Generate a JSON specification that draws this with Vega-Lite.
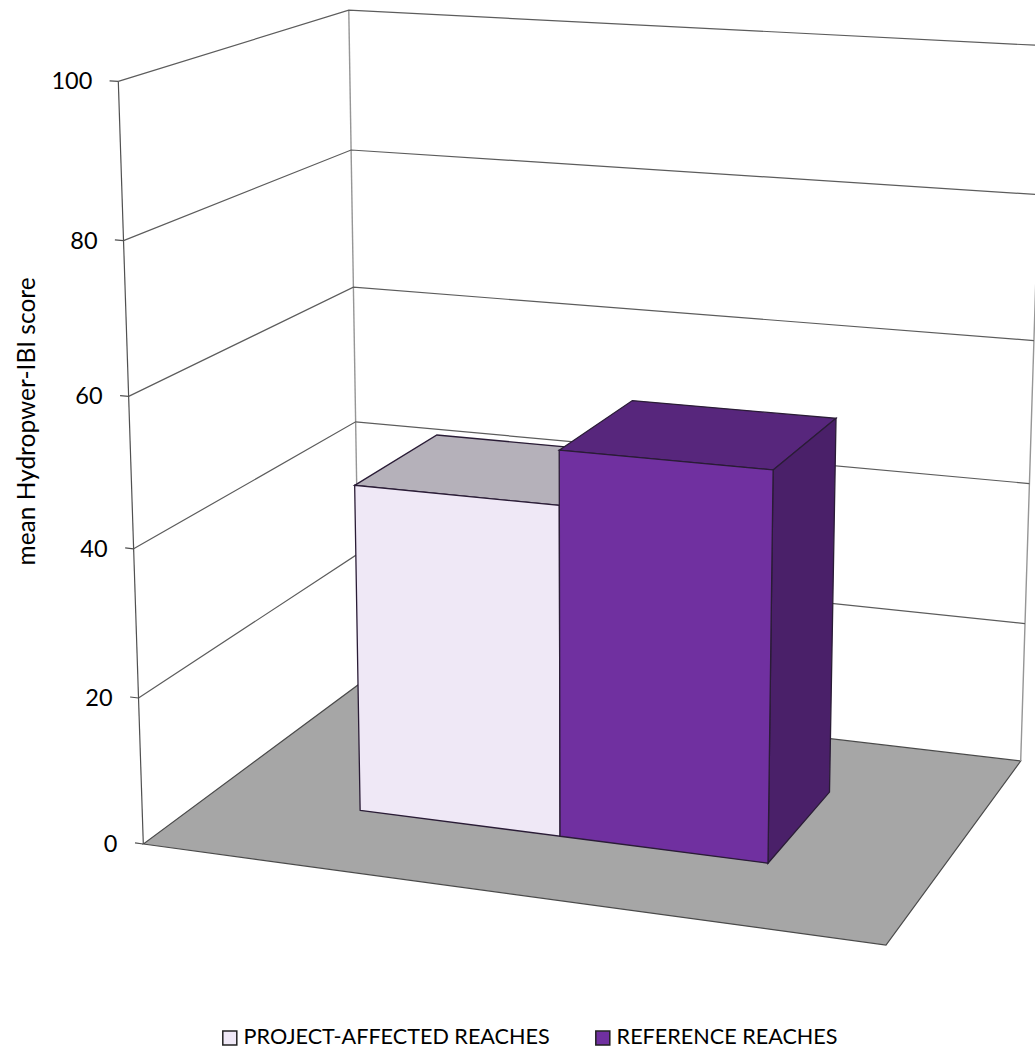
{
  "$schema": "https://vega.github.io/schema/vega-lite/v6.json",
  "width": 1035,
  "height": 1053,
  "padding": 0,
  "autosize": "none",
  "background": "white",
  "config": {"view": {"stroke": null}},
  "resolve": {"scale": {"fill": "independent"}},
  "data": {"values": [
    {"kind":"floor","id":"floor","i":0,"u":0,"v":0,"w":0},
    {"kind":"floor","id":"floor","i":1,"u":1,"v":0,"w":0},
    {"kind":"floor","id":"floor","i":2,"u":1,"v":0,"w":1},
    {"kind":"floor","id":"floor","i":3,"u":0,"v":0,"w":1},

    {"kind":"grid","id":"g20","i":0,"u":0,"v":20,"w":0},
    {"kind":"grid","id":"g20","i":1,"u":0,"v":20,"w":1},
    {"kind":"grid","id":"g20","i":2,"u":1,"v":20,"w":1},
    {"kind":"grid","id":"g40","i":0,"u":0,"v":40,"w":0},
    {"kind":"grid","id":"g40","i":1,"u":0,"v":40,"w":1},
    {"kind":"grid","id":"g40","i":2,"u":1,"v":40,"w":1},
    {"kind":"grid","id":"g60","i":0,"u":0,"v":60,"w":0},
    {"kind":"grid","id":"g60","i":1,"u":0,"v":60,"w":1},
    {"kind":"grid","id":"g60","i":2,"u":1,"v":60,"w":1},
    {"kind":"grid","id":"g80","i":0,"u":0,"v":80,"w":0},
    {"kind":"grid","id":"g80","i":1,"u":0,"v":80,"w":1},
    {"kind":"grid","id":"g80","i":2,"u":1,"v":80,"w":1},
    {"kind":"grid","id":"g100","i":0,"u":0,"v":100,"w":0},
    {"kind":"grid","id":"g100","i":1,"u":0,"v":100,"w":1},
    {"kind":"grid","id":"g100","i":2,"u":1,"v":100,"w":1},

    {"kind":"edge","id":"backLeft","i":0,"u":0,"v":0,"w":1},
    {"kind":"edge","id":"backLeft","i":1,"u":0,"v":100,"w":1},
    {"kind":"edge","id":"backRight","i":0,"u":1,"v":0,"w":1},
    {"kind":"edge","id":"backRight","i":1,"u":1,"v":100,"w":1},

    {"kind":"axis","id":"yAxis","i":0,"u":0,"v":0,"w":0},
    {"kind":"axis","id":"yAxis","i":1,"u":0,"v":100,"w":0},
    {"kind":"axis","id":"t0","i":0,"u":-0.012,"v":0,"w":0},
    {"kind":"axis","id":"t0","i":1,"u":0,"v":0,"w":0},
    {"kind":"axis","id":"t20","i":0,"u":-0.012,"v":20,"w":0},
    {"kind":"axis","id":"t20","i":1,"u":0,"v":20,"w":0},
    {"kind":"axis","id":"t40","i":0,"u":-0.012,"v":40,"w":0},
    {"kind":"axis","id":"t40","i":1,"u":0,"v":40,"w":0},
    {"kind":"axis","id":"t60","i":0,"u":-0.012,"v":60,"w":0},
    {"kind":"axis","id":"t60","i":1,"u":0,"v":60,"w":0},
    {"kind":"axis","id":"t80","i":0,"u":-0.012,"v":80,"w":0},
    {"kind":"axis","id":"t80","i":1,"u":0,"v":80,"w":0},
    {"kind":"axis","id":"t100","i":0,"u":-0.012,"v":100,"w":0},
    {"kind":"axis","id":"t100","i":1,"u":0,"v":100,"w":0},

    {"kind":"label","id":"l0","i":0,"u":0,"v":0,"w":0},
    {"kind":"label","id":"l20","i":0,"u":0,"v":20,"w":0},
    {"kind":"label","id":"l40","i":0,"u":0,"v":40,"w":0},
    {"kind":"label","id":"l60","i":0,"u":0,"v":60,"w":0},
    {"kind":"label","id":"l80","i":0,"u":0,"v":80,"w":0},
    {"kind":"label","id":"l100","i":0,"u":0,"v":100,"w":0},

    {"kind":"title","id":"title","i":0,"u":-0.144,"v":55.5,"w":0,"text":"mean Hydropwer-IBI score"},

    {"kind":"bar","face":"top","series":"PROJECT-AFFECTED REACHES","id":"p-top","i":0,"u":0.215,"v":45,"w":0.3},
    {"kind":"bar","face":"top","series":"PROJECT-AFFECTED REACHES","id":"p-top","i":1,"u":0.5,"v":45,"w":0.3},
    {"kind":"bar","face":"top","series":"PROJECT-AFFECTED REACHES","id":"p-top","i":2,"u":0.5,"v":45,"w":0.7},
    {"kind":"bar","face":"top","series":"PROJECT-AFFECTED REACHES","id":"p-top","i":3,"u":0.215,"v":45,"w":0.7},

    {"kind":"bar","face":"top","series":"REFERENCE REACHES","id":"r-top","i":0,"u":0.5,"v":52.3,"w":0.3},
    {"kind":"bar","face":"top","series":"REFERENCE REACHES","id":"r-top","i":1,"u":0.785,"v":52.3,"w":0.3},
    {"kind":"bar","face":"top","series":"REFERENCE REACHES","id":"r-top","i":2,"u":0.785,"v":52.3,"w":0.7},
    {"kind":"bar","face":"top","series":"REFERENCE REACHES","id":"r-top","i":3,"u":0.5,"v":52.3,"w":0.7},

    {"kind":"bar","face":"side","series":"REFERENCE REACHES","id":"r-side","i":0,"u":0.785,"v":0,"w":0.3},
    {"kind":"bar","face":"side","series":"REFERENCE REACHES","id":"r-side","i":1,"u":0.785,"v":0,"w":0.7},
    {"kind":"bar","face":"side","series":"REFERENCE REACHES","id":"r-side","i":2,"u":0.785,"v":52.3,"w":0.7},
    {"kind":"bar","face":"side","series":"REFERENCE REACHES","id":"r-side","i":3,"u":0.785,"v":52.3,"w":0.3},

    {"kind":"bar","face":"front","series":"PROJECT-AFFECTED REACHES","id":"p-front","i":0,"u":0.215,"v":0,"w":0.3},
    {"kind":"bar","face":"front","series":"PROJECT-AFFECTED REACHES","id":"p-front","i":1,"u":0.5,"v":0,"w":0.3},
    {"kind":"bar","face":"front","series":"PROJECT-AFFECTED REACHES","id":"p-front","i":2,"u":0.5,"v":45,"w":0.3},
    {"kind":"bar","face":"front","series":"PROJECT-AFFECTED REACHES","id":"p-front","i":3,"u":0.215,"v":45,"w":0.3},

    {"kind":"bar","face":"front","series":"REFERENCE REACHES","id":"r-front","i":0,"u":0.5,"v":0,"w":0.3},
    {"kind":"bar","face":"front","series":"REFERENCE REACHES","id":"r-front","i":1,"u":0.785,"v":0,"w":0.3},
    {"kind":"bar","face":"front","series":"REFERENCE REACHES","id":"r-front","i":2,"u":0.785,"v":52.3,"w":0.3},
    {"kind":"bar","face":"front","series":"REFERENCE REACHES","id":"r-front","i":3,"u":0.5,"v":52.3,"w":0.3}
  ]},
  "transform": [
    {"calculate": "1 - 0.06947 * datum.u + 0.13827 * datum.w - 0.00053 * datum.v", "as": "q"},
    {"calculate": "(143.3 + 681.15 * datum.u + 266.48 * datum.w - 0.3127 * datum.v) / datum.q", "as": "px"},
    {"calculate": "(844 + 35.35 * datum.u - 66 * datum.w - 7.67 * datum.v) / datum.q", "as": "py"}
  ],
  "encoding": {
    "x": {"field": "px", "type": "quantitative", "axis": null, "scale": {"domain": [0, 1035], "range": [0, 1035], "nice": false, "zero": false}},
    "y": {"field": "py", "type": "quantitative", "axis": null, "scale": {"domain": [0, 1053], "range": [0, 1053], "nice": false, "zero": false}}
  },
  "layer": [
    {
      "transform": [{"filter": "datum.kind === 'floor'"}],
      "mark": {"type": "line", "interpolate": "linear-closed", "fill": "#a6a6a6", "stroke": "#4a4a4a", "strokeWidth": 1.2, "clip": true},
      "encoding": {"order": {"field": "i"}, "detail": {"field": "id"}}
    },
    {
      "transform": [{"filter": "datum.kind === 'edge'"}],
      "mark": {"type": "line", "stroke": "#969696", "strokeWidth": 1.4, "clip": true},
      "encoding": {"order": {"field": "i"}, "detail": {"field": "id"}}
    },
    {
      "transform": [{"filter": "datum.kind === 'grid'"}],
      "mark": {"type": "line", "stroke": "#5c5c5c", "strokeWidth": 1.2, "clip": true},
      "encoding": {"order": {"field": "i"}, "detail": {"field": "id"}}
    },
    {
      "transform": [{"filter": "datum.kind === 'axis'"}],
      "mark": {"type": "line", "stroke": "#505050", "strokeWidth": 1.2, "clip": true},
      "encoding": {"order": {"field": "i"}, "detail": {"field": "id"}}
    },
    {
      "transform": [
        {"filter": "datum.kind === 'bar' && datum.face !== 'front'"}
      ],
      "mark": {"type": "line", "interpolate": "linear-closed", "stroke": "#2a1c36", "strokeWidth": 1.3, "clip": true},
      "encoding": {
        "order": {"field": "i"},
        "detail": {"field": "id"},
        "fill": {
          "field": "id",
          "type": "nominal",
          "legend": null,
          "scale": {"domain": ["p-top", "r-top", "r-side"], "range": ["#b5b1ba", "#57267c", "#4a2069"]}
        }
      }
    },
    {
      "transform": [{"filter": "datum.kind === 'bar' && datum.face === 'front'"}],
      "mark": {"type": "line", "interpolate": "linear-closed", "stroke": "#2a1c36", "strokeWidth": 1.3, "clip": true},
      "encoding": {
        "order": {"field": "i"},
        "detail": {"field": "id"},
        "fill": {
          "field": "series",
          "type": "nominal",
          "scale": {"domain": ["PROJECT-AFFECTED REACHES", "REFERENCE REACHES"], "range": ["#efe8f6", "#7030a0"]},
          "legend": {
            "title": null,
            "orient": "none",
            "legendX": 219,
            "legendY": 1027,
            "direction": "horizontal",
            "columns": 2,
            "columnPadding": 42,
            "symbolType": "square",
            "symbolSize": 196,
            "symbolStrokeColor": "#222222",
            "symbolStrokeWidth": 1.5,
            "labelFont": "Lato",
            "labelFontSize": 21.6,
            "labelColor": "#000000",
            "labelOffset": 3,
            "labelLimit": 500
          }
        }
      }
    },
    {
      "transform": [{"filter": "datum.kind === 'label'"}],
      "mark": {"type": "text", "font": "Lato", "fontSize": 23.5, "align": "right", "baseline": "middle", "dx": -26, "dy": 1, "color": "#000000"},
      "encoding": {"text": {"field": "v", "type": "quantitative"}}
    },
    {
      "transform": [{"filter": "datum.kind === 'title'"}],
      "mark": {"type": "text", "font": "Lato", "fontSize": 24.5, "angle": 270, "align": "center", "baseline": "middle", "color": "#000000"},
      "encoding": {"text": {"field": "text", "type": "nominal"}}
    }
  ]
}
